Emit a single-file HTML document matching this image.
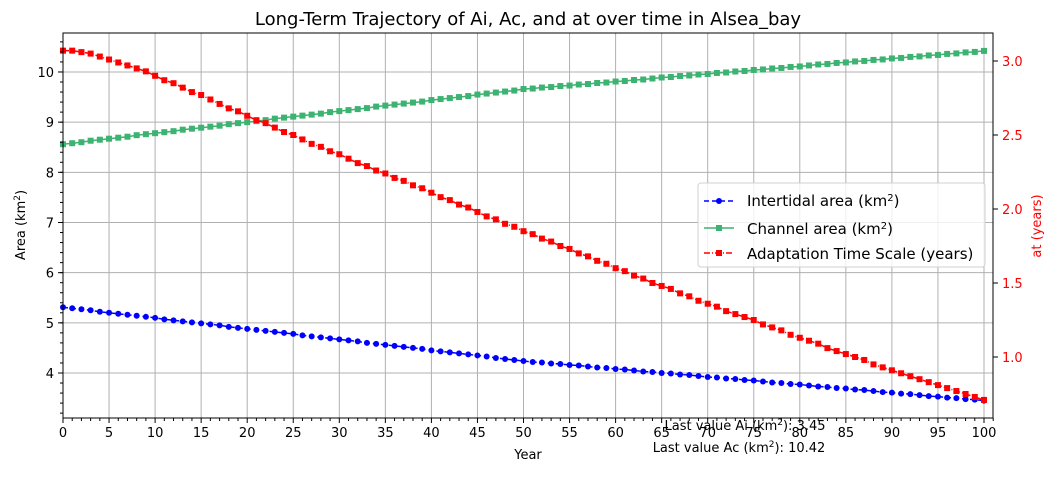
<!DOCTYPE html>
<html><head><meta charset="utf-8"><style>
body{margin:0;background:#fff;}
svg{display:block;font-family:"DejaVu Sans","Liberation Sans",sans-serif;}
</style></head><body>
<svg id="chart" width="1054" height="483"></svg>
<script>
const years = Array.from({length:101},(_, i)=>i);
const aiValues = [5.31,5.29,5.27,5.25,5.22,5.20,5.18,5.16,5.14,5.12,5.10,5.07,5.05,5.03,5.01,4.99,4.97,4.95,4.92,4.90,4.88,4.86,4.84,4.82,4.80,4.78,4.75,4.73,4.71,4.69,4.67,4.65,4.63,4.60,4.58,4.56,4.54,4.52,4.50,4.48,4.45,4.43,4.41,4.39,4.37,4.35,4.33,4.30,4.28,4.26,4.24,4.22,4.21,4.19,4.18,4.16,4.15,4.13,4.11,4.10,4.08,4.07,4.05,4.03,4.02,4.00,3.99,3.97,3.96,3.94,3.92,3.91,3.89,3.88,3.86,3.85,3.83,3.81,3.80,3.78,3.77,3.75,3.73,3.72,3.70,3.69,3.67,3.66,3.64,3.62,3.61,3.59,3.58,3.56,3.54,3.53,3.51,3.50,3.48,3.47,3.45];
const acValues = [8.56,8.58,8.60,8.63,8.65,8.67,8.69,8.71,8.74,8.76,8.78,8.80,8.82,8.85,8.87,8.89,8.91,8.93,8.96,8.98,9.00,9.02,9.04,9.07,9.09,9.11,9.13,9.15,9.17,9.20,9.22,9.24,9.26,9.28,9.31,9.33,9.35,9.37,9.39,9.41,9.44,9.46,9.48,9.50,9.52,9.55,9.57,9.59,9.61,9.63,9.66,9.67,9.69,9.70,9.72,9.73,9.75,9.76,9.78,9.79,9.81,9.82,9.84,9.85,9.87,9.89,9.90,9.92,9.93,9.95,9.96,9.98,9.99,10.01,10.02,10.04,10.05,10.07,10.08,10.10,10.11,10.13,10.15,10.16,10.18,10.19,10.21,10.22,10.24,10.25,10.27,10.28,10.30,10.31,10.33,10.34,10.36,10.37,10.39,10.40,10.42];
const atValues = [3.07,3.07,3.06,3.05,3.03,3.01,2.99,2.97,2.95,2.93,2.90,2.87,2.85,2.82,2.79,2.77,2.74,2.71,2.68,2.66,2.63,2.60,2.58,2.55,2.52,2.50,2.47,2.44,2.42,2.39,2.37,2.34,2.31,2.29,2.26,2.24,2.21,2.19,2.16,2.14,2.11,2.08,2.06,2.03,2.01,1.98,1.95,1.93,1.90,1.88,1.85,1.83,1.80,1.78,1.75,1.73,1.70,1.68,1.65,1.63,1.60,1.58,1.55,1.53,1.50,1.48,1.46,1.43,1.41,1.38,1.36,1.34,1.31,1.29,1.27,1.25,1.22,1.20,1.18,1.15,1.13,1.11,1.09,1.06,1.04,1.02,1.00,0.98,0.95,0.93,0.91,0.89,0.87,0.85,0.83,0.81,0.79,0.77,0.75,0.73,0.71];
const xTicks = [0,5,10,15,20,25,30,35,40,45,50,55,60,65,70,75,80,85,90,95,100];
const yLeftTicks = [4,5,6,7,8,9,10];
const yRightTicks = [1.0,1.5,2.0,2.5,3.0];

const NS="http://www.w3.org/2000/svg";
const svg=document.getElementById('chart');
const L=63,R=993,T=33,B=418;
const xs=v=>L+v*9.21;
const yl=v=>373-(v-4)*50.17;
const yr=v=>357-(v-1)*148;
function mk(tag,attrs,parent){const e=document.createElementNS(NS,tag);for(const k in attrs)e.setAttribute(k,attrs[k]);(parent||svg).appendChild(e);return e;}
function txt(s,attrs,parent){const e=mk('text',attrs,parent);e.textContent=s;return e;}

const grid=mk('g',{});


xTicks.forEach(t=>mk('line',{x1:xs(t),x2:xs(t),y1:T,y2:B,stroke:'#b0b0b0','stroke-width':1},grid));
yLeftTicks.forEach(t=>mk('line',{x1:L,x2:R,y1:yl(t),y2:yl(t),stroke:'#b0b0b0','stroke-width':1},grid));

function series(name,vals,ys,color,dash,marker){
  const g=mk('g',{});
  
  
  const pts=years.map((x,i)=>xs(x).toFixed(1)+','+ys(vals[i]).toFixed(1)).join(' ');
  mk('polyline',{points:pts,fill:'none',stroke:color,'stroke-width':1.5,'stroke-dasharray':dash},g);
  years.forEach((x,i)=>{
    if(marker==='o') mk('circle',{cx:xs(x),cy:ys(vals[i]),r:3,fill:color},g);
    else mk('rect',{x:xs(x)-3,y:ys(vals[i])-3,width:6,height:6,fill:color},g);
  });
}
series('intertidal-area-series',aiValues,yl,'#0000ff','5,3','o');
series('channel-area-series',acValues,yl,'#3cb371','','s');
series('adaptation-time-series',atValues,yr,'#ff0000','6,2,1,2','s');

const frame=mk('rect',{x:L,y:T,width:R-L,height:B-T,fill:'none',stroke:'#000','stroke-width':1});



const xa=mk('g',{'font-size':13});


for(let v=0;v<=101;v++){mk('line',{x1:xs(v),x2:xs(v),y1:B,y2:B+(v%5===0?5:3),stroke:'#000'},xa);}
xTicks.forEach(t=>txt(String(t),{x:xs(t),y:B+19,'text-anchor':'middle'},xa));
txt('Year',{x:528,y:459,'text-anchor':'middle','font-size':13},xa);

const ya=mk('g',{'font-size':13});


for(let v=3.2;v<=10.7;v+=0.2){mk('line',{x1:L,x2:L-3,y1:yl(v),y2:yl(v),stroke:'#000'},ya);}
yLeftTicks.forEach(t=>{mk('line',{x1:L,x2:L-5,y1:yl(t),y2:yl(t),stroke:'#000'},ya);txt(String(t),{x:L-9,y:yl(t)+5,'text-anchor':'end'},ya);});
const ylab=txt('',{transform:'translate(25,225) rotate(-90)','text-anchor':'middle','font-size':13},ya);
ylab.innerHTML='Area (km<tspan dy="-5" font-size="9">2</tspan><tspan dy="5">)</tspan>';

const yb=mk('g',{'font-size':13,fill:'#ff0000'});


yRightTicks.forEach(t=>{mk('line',{x1:R,x2:R+5,y1:yr(t),y2:yr(t),stroke:'#000'},yb);txt(t.toFixed(1),{x:R+9,y:yr(t)+5},yb);});
txt('at (years)',{transform:'translate(1041,226) rotate(-90)','text-anchor':'middle','font-size':13},yb);

const ti=txt('Long-Term Trajectory of Ai, Ac, and at over time in Alsea_bay',{x:528,y:25,'text-anchor':'middle','font-size':18});



const lg=mk('g',{'font-size':15});


mk('rect',{x:698,y:183,width:287,height:84,rx:3,fill:'#fff','fill-opacity':0.8,stroke:'#d0d0d0'},lg);
mk('line',{x1:704,x2:734,y1:201,y2:201,stroke:'#0000ff','stroke-width':1.5,'stroke-dasharray':'5,3'},lg);
mk('circle',{cx:719,cy:201,r:3,fill:'#0000ff'},lg);
mk('line',{x1:704,x2:734,y1:228,y2:228,stroke:'#3cb371','stroke-width':1.5},lg);
mk('rect',{x:716,y:225,width:6,height:6,fill:'#3cb371'},lg);
mk('line',{x1:704,x2:734,y1:253,y2:253,stroke:'#ff0000','stroke-width':1.5,'stroke-dasharray':'6,2,1,2'},lg);
mk('rect',{x:716,y:250,width:6,height:6,fill:'#ff0000'},lg);
const l1=txt('',{x:747,y:206},lg);l1.innerHTML='Intertidal area (km<tspan dy="-5" font-size="10">2</tspan><tspan dy="5">)</tspan>';
const l2=txt('',{x:747,y:234},lg);l2.innerHTML='Channel area (km<tspan dy="-5" font-size="10">2</tspan><tspan dy="5">)</tspan>';
txt('Adaptation Time Scale (years)',{x:747,y:259},lg);

const an=mk('g',{'font-size':13});


const a1=txt('',{x:745,y:430,'text-anchor':'middle'},an);a1.innerHTML='Last value Ai (km<tspan dy="-5" font-size="9">2</tspan><tspan dy="5">): 3.45</tspan>';
const a2=txt('',{x:739,y:452,'text-anchor':'middle'},an);a2.innerHTML='Last value Ac (km<tspan dy="-5" font-size="9">2</tspan><tspan dy="5">): 10.42</tspan>';
</script>
</body></html>
